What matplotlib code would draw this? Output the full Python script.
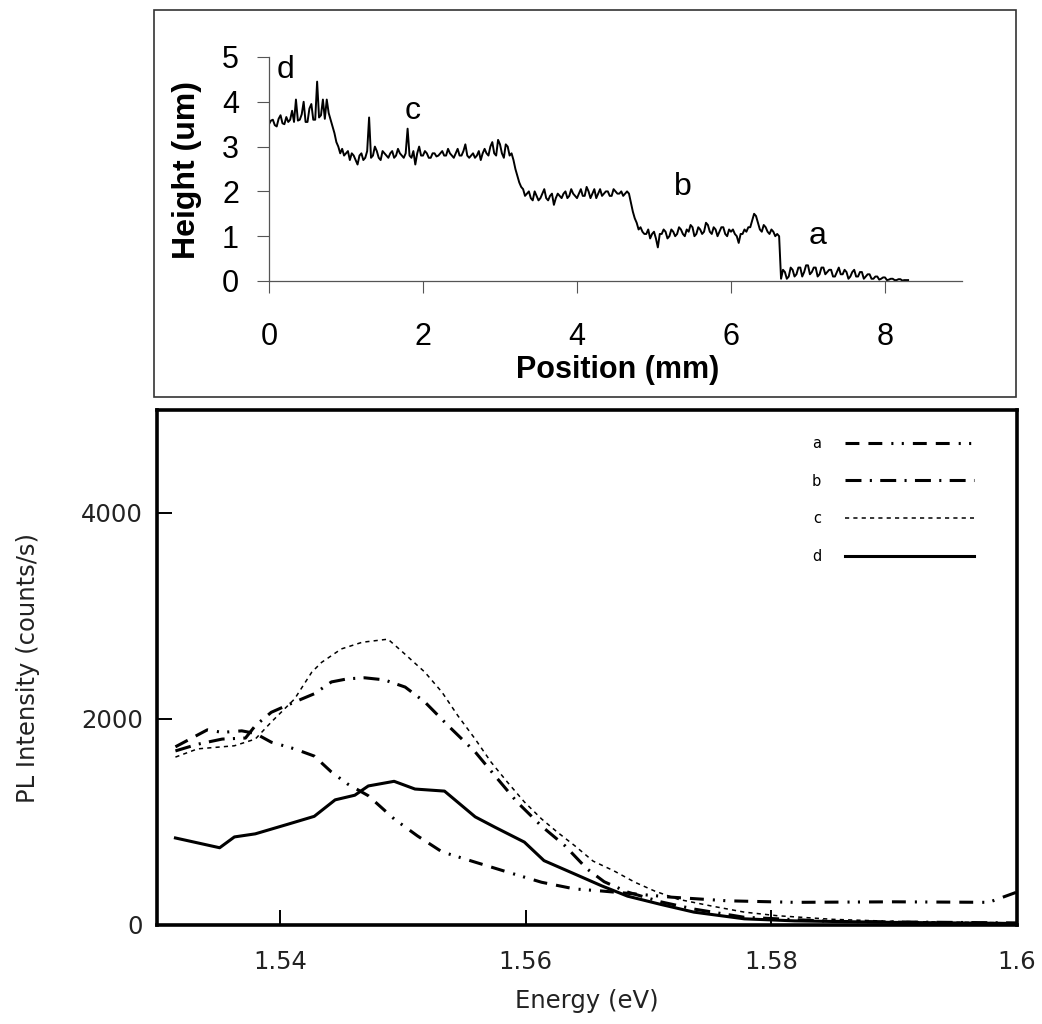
import numpy as np
import matplotlib
matplotlib.use("Agg")
import matplotlib.pyplot as plt
from matplotlib.patches import Rectangle

plt.rcParams["lines.scale_dashes"] = False

# --- top panel: surface profile (height vs position), one sample every 0.025 mm ---
step_mm = 0.025
height_um = [
    # d terrace (0 - 0.8 mm)
    3.50, 3.58, 3.60, 3.48, 3.45, 3.62, 3.70, 3.52, 3.50, 3.66, 3.55, 3.60, 3.80, 3.55, 4.05, 3.58,
    3.60, 3.72, 4.00, 3.55, 3.55, 3.85, 3.95, 3.60, 3.60, 4.45, 3.65, 3.70, 4.05, 3.62, 4.05, 3.75,
    3.60,
    # step and c terrace (0.825 - 3.15 mm)
    3.45, 3.30, 3.10, 3.00, 2.85, 2.95, 2.80, 2.85,
    2.90, 2.70, 2.85, 2.80, 2.70, 2.60, 2.80, 2.85, 2.70, 2.75, 2.90, 3.65, 2.75, 2.80, 3.00, 2.90,
    2.75, 2.70, 2.90, 2.85, 2.80, 2.75, 2.85, 2.90, 2.75, 2.80, 2.95, 2.85, 2.80, 2.75, 2.85, 3.40,
    2.80, 2.75, 2.90, 2.60, 2.85, 3.00, 2.80, 2.80,
    2.90, 2.85, 2.75, 2.75, 2.85, 2.85, 2.78, 2.80, 2.85, 2.90, 2.80, 2.80, 2.95, 2.85, 2.80, 2.75,
    2.85, 2.95, 2.80, 2.80, 2.90, 3.05, 2.80, 2.75, 2.80, 2.85, 2.75, 2.80, 2.90, 2.70, 2.85, 2.95,
    2.85, 2.80, 3.00, 3.10, 2.85, 2.80, 3.15, 3.05,
    2.85, 2.75, 3.05, 3.00, 2.80, 2.85,
    # step and middle terrace (3.175 - 4.675 mm)
    2.70, 2.50, 2.35, 2.20, 2.10, 2.05, 1.90, 1.95, 2.00, 1.85, 1.80, 2.00, 1.90, 1.80, 1.85, 1.95,
    2.05, 1.85, 1.80, 1.90, 1.95, 1.70, 1.85, 1.95, 1.90, 1.85, 1.95, 2.00, 1.85, 1.90, 2.05, 1.95,
    1.90, 1.85,
    1.95, 2.05, 1.90, 1.90, 2.10, 2.00, 1.85, 1.95, 2.05, 1.85, 1.95, 2.05, 1.90, 1.95, 2.00, 2.00,
    1.90, 1.90, 2.05, 2.00, 1.95, 1.95, 2.00, 1.90, 1.95, 2.00, 1.95,
    # step and b terrace (4.7 - 6.625 mm)
    1.75, 1.55, 1.40, 1.30, 1.15, 1.20, 1.10, 1.05, 1.05, 1.15, 0.95, 1.05, 1.10,
    0.95, 0.75, 1.05, 1.05, 1.15, 1.10, 0.95, 1.00, 1.15, 1.10, 1.00, 1.05, 1.20, 1.15, 1.05, 1.00,
    1.15, 1.10, 1.25, 1.20, 1.00, 1.05, 1.20, 1.15, 1.05, 1.10, 1.30, 1.25, 1.10, 1.05, 1.20, 1.15,
    1.00, 1.10, 1.20, 1.20, 1.05, 1.00, 1.15, 1.10,
    1.15, 1.05, 1.00, 0.85, 1.05, 1.05, 1.15, 1.10, 1.20, 1.20, 1.35, 1.50, 1.45, 1.30, 1.15, 1.10,
    1.25, 1.20, 1.10, 1.05, 1.15, 1.10, 1.00, 1.05, 1.00,
    # a, substrate (6.65 - 8.3 mm)
    0.05, 0.25, 0.20, 0.05, 0.10, 0.30, 0.25, 0.10, 0.15, 0.30, 0.30, 0.10, 0.20, 0.35, 0.35,
    0.15, 0.20, 0.30, 0.30, 0.10, 0.15, 0.30, 0.30, 0.15, 0.20, 0.25, 0.25, 0.10, 0.10, 0.20, 0.30,
    0.15, 0.15, 0.25, 0.20, 0.05, 0.10, 0.20, 0.25, 0.10, 0.10, 0.20, 0.20, 0.05, 0.10, 0.15, 0.15,
    0.05, 0.05, 0.10, 0.10, 0.03, 0.05, 0.08, 0.08,
    0.02, 0.03, 0.05, 0.05, 0.02, 0.02, 0.04, 0.04, 0.01, 0.02, 0.02, 0.02,
]
position_mm = np.arange(len(height_um)) * step_mm

region_labels = ["d", "c", "b", "a"]
region_x = [0.22, 1.87, 5.38, 7.13]
region_y = [4.7, 3.8, 2.1, 1.0]

# --- bottom panel: PL spectra ---
E_a = [1.5315, 1.5341, 1.5353, 1.5369, 1.538, 1.5393, 1.5412, 1.5428, 1.5442, 1.5455, 1.5472,
       1.5493, 1.5512, 1.5532, 1.5559, 1.5585, 1.5613, 1.564, 1.5662, 1.5719, 1.5764, 1.5819,
       1.59, 1.5977, 1.6]
I_a = [1730, 1895, 1870, 1885, 1860, 1775, 1710, 1640, 1485, 1370, 1255,
       1030, 865, 710, 610, 515, 415, 350, 330, 270, 235, 220,
       225, 220, 320]

E_b = [1.5315, 1.5333, 1.5353, 1.5372, 1.538, 1.5393, 1.5412, 1.5428, 1.5442, 1.5455, 1.5469,
       1.5485, 1.5502, 1.5518, 1.5537, 1.5559, 1.5575, 1.5593, 1.5613, 1.5632, 1.565, 1.5664,
       1.5683, 1.571, 1.5737, 1.5778, 1.585, 1.6]
I_b = [1690, 1755, 1805, 1815, 1935, 2065, 2165, 2245, 2360, 2390, 2400,
       2380, 2310, 2165, 1935, 1680, 1450, 1195, 960, 770, 545, 420,
       320, 225, 155, 75, 35, 20]

E_c = [1.5315, 1.5333, 1.5363, 1.538, 1.5393, 1.5412, 1.5426, 1.5434, 1.545, 1.5467, 1.5488,
       1.5499, 1.5518, 1.5532, 1.5545, 1.5559, 1.5572, 1.5585, 1.5599, 1.5613, 1.5626, 1.564,
       1.5655, 1.5672, 1.5689, 1.5705, 1.5724, 1.5751, 1.5778, 1.5805, 1.585, 1.59, 1.6]
I_c = [1630, 1710, 1740, 1805, 1970, 2195, 2455, 2550, 2680, 2745, 2775,
       2660, 2455, 2260, 2030, 1805, 1580, 1390, 1195, 1030, 900, 770,
       620, 525, 415, 330, 250, 185, 125, 90, 55, 35, 20]

E_d = [1.5315, 1.5351, 1.5363, 1.538, 1.5407, 1.5428, 1.5445, 1.5461, 1.5472, 1.5493, 1.551,
       1.5534, 1.5559, 1.5575, 1.5599, 1.5615, 1.564, 1.5662, 1.5683, 1.571, 1.5737, 1.5778,
       1.5819, 1.59, 1.6]
I_d = [845, 750, 855, 885, 980, 1055, 1215, 1260, 1350, 1395, 1320,
       1300, 1050, 950, 805, 625, 495, 380, 280, 200, 125, 60,
       40, 25, 15]

W, H = 1042, 1024
fig = plt.figure(figsize=(W / 100, H / 100), dpi=100)

def fx(px):
    return px / W

def fy(py):
    return 1 - py / H

# frame around the top panel
fig.patches.append(Rectangle((fx(154), fy(397)), fx(1016) - fx(154), fy(10) - fy(397),
                             transform=fig.transFigure, fill=False, lw=1.2, ec="#333333"))

arial = "Liberation Sans"
ax1 = fig.add_axes([fx(269), fy(281), fx(962) - fx(269), fy(57) - fy(281)])
ax1.plot(position_mm, height_um, color="black", lw=1.4)
ax1.set_xlim(0, 9)
ax1.set_ylim(0, 5)
ax1.set_xticks([0, 2, 4, 6, 8])
ax1.set_yticks([0, 1, 2, 3, 4, 5])
for s in ["top", "right"]:
    ax1.spines[s].set_visible(False)
for s in ["left", "bottom"]:
    ax1.spines[s].set_color("#555555")
    ax1.spines[s].set_linewidth(0.9)
ax1.tick_params(axis="both", direction="out", length=8.6, width=0.8, color="#555555",
                labelsize=22)
ax1.tick_params(axis="x", pad=21)
ax1.tick_params(axis="y", pad=13)
for lab in ax1.get_xticklabels() + ax1.get_yticklabels():
    lab.set_fontfamily(arial)
for t, x, y in zip(region_labels, region_x, region_y):
    ax1.text(x, y, t, fontsize=23, family=arial, ha="center", va="center")
fig.text(fx(187), fy(170), "Height (um)", rotation=90, fontsize=23, fontweight="bold",
         family=arial, ha="center", va="center")
fig.text(fx(618), fy(370), "Position (mm)", fontsize=22, fontweight="bold",
         family=arial, ha="center", va="center")

# bottom panel
ax2 = fig.add_axes([fx(157), fy(925), fx(1017) - fx(157), fy(410) - fy(925)])
l_a, = ax2.plot(E_a, I_a, color="black", lw=2.2, linestyle=(0, (10, 6.5, 10, 6.5, 1.5, 6, 1.5, 6.5)),
                label="a")
l_b, = ax2.plot(E_b, I_b, color="black", lw=2.2, linestyle=(0, (11.5, 6, 1.5, 6)), label="b")
l_c, = ax2.plot(E_c, I_c, color="black", lw=1.1, linestyle=(0, (3, 3)), label="c")
l_d, = ax2.plot(E_d, I_d, color="black", lw=2.2, linestyle="-", label="d")
ax2.set_xlim(1.53, 1.6)
ax2.set_ylim(0, 5000)
ax2.set_xticks([1.54, 1.56, 1.58, 1.6])
ax2.set_xticklabels(["1.54", "1.56", "1.58", "1.6"])
ax2.set_yticks([0, 2000, 4000])
for s in ax2.spines.values():
    s.set_linewidth(2.6)
    s.set_color("black")
ax2.tick_params(axis="both", direction="in", length=11, width=1.4, labelsize=17.5,
                labelcolor="#222222")
ax2.tick_params(axis="x", pad=18)
ax2.tick_params(axis="y", pad=10)
fig.text(fx(587), fy(1001), "Energy (eV)", fontsize=17.5, color="#222222",
         ha="center", va="center")
fig.text(fx(28), fy(668), "PL Intensity (counts/s)", fontsize=17.5, color="#222222",
         rotation=90, ha="center", va="center")

leg = ax2.legend(handles=[l_a, l_b, l_c, l_d], loc="upper left",
                 bbox_to_anchor=(fx(812), fy(436)), bbox_transform=fig.transFigure,
                 frameon=False, markerfirst=False, fontsize=10.5, handlelength=8.9,
                 handletextpad=1.6, labelspacing=1.55, borderpad=0, borderaxespad=0)

fig.savefig("out.png", dpi=100)
